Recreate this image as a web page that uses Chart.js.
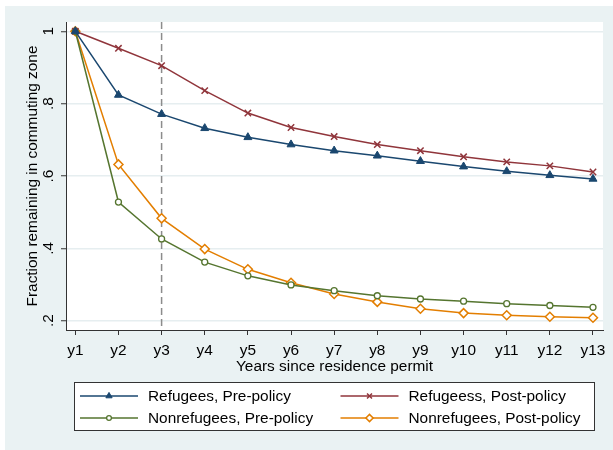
<!DOCTYPE html>
<html>
<head>
<meta charset="utf-8">
<script src="https://cdn.jsdelivr.net/npm/chart.js@4.4.1/dist/chart.umd.min.js"></script>
<style>
  html, body { margin: 0; padding: 0; background: #ffffff; }
  #wrap { width: 613px; height: 450px; }
</style>
</head>
<body>
<div id="wrap"><canvas id="chart" width="613" height="450"></canvas></div>
<script>
// Years since residence permit
const years = ['y1', 'y2', 'y3', 'y4', 'y5', 'y6', 'y7', 'y8', 'y9', 'y10', 'y11', 'y12', 'y13'];

// Fraction remaining in commuting zone, by group
const refugeesPre   = [1.000, 0.824, 0.771, 0.732, 0.707, 0.687, 0.670, 0.656, 0.641, 0.626, 0.613, 0.602, 0.592];
const refugeesPost  = [1.000, 0.953, 0.905, 0.836, 0.774, 0.734, 0.709, 0.687, 0.670, 0.653, 0.639, 0.628, 0.611];
const nonrefPre     = [1.000, 0.528, 0.426, 0.362, 0.324, 0.299, 0.283, 0.269, 0.260, 0.254, 0.247, 0.242, 0.237];
const nonrefPost    = [1.000, 0.632, 0.483, 0.398, 0.342, 0.305, 0.274, 0.252, 0.233, 0.221, 0.215, 0.211, 0.208];

const seriesNames = ['Refugees, Pre-policy', 'Refugeess, Post-policy', 'Nonrefugees, Pre-policy', 'Nonrefugees, Post-policy'];
const yTicks = [0.2, 0.4, 0.6, 0.8, 1.0];
const policyYear = 'y3';

const FONT = '"Liberation Sans", Arial, sans-serif';
const FONT_SIZE = 15.4;
const NAVY = '#1a476f', MAROON = '#90353b', GREEN = '#55752f', ORANGE = '#e37e00';

const toPoints = vals => years.map((_, i) => ({ x: i + 1, y: vals[i] }));

// Light bluish graph region with a white plot region
const backdrop = {
  id: 'backdrop',
  beforeDraw(chart) {
    const { ctx, chartArea: a } = chart;
    ctx.save();
    ctx.fillStyle = '#ffffff';
    ctx.fillRect(0, 0, chart.width, chart.height);
    ctx.fillStyle = '#eaf2f3';
    ctx.fillRect(5, 6, chart.width - 5, chart.height - 6);
    ctx.fillStyle = '#ffffff';
    ctx.fillRect(a.left, a.top, a.right - a.left, a.bottom - a.top);
    ctx.restore();
  }
};

// Dashed reference line at the policy year
const policyLine = {
  id: 'policyLine',
  beforeDatasetsDraw(chart) {
    const { ctx, chartArea: a, scales: { x } } = chart;
    const px = x.getPixelForValue(years.indexOf(policyYear) + 1);
    ctx.save();
    ctx.strokeStyle = '#8c8c8c';
    ctx.lineWidth = 1.5;
    ctx.setLineDash([7, 4]);
    ctx.beginPath();
    ctx.moveTo(px, a.top);
    ctx.lineTo(px, a.bottom);
    ctx.stroke();
    ctx.restore();
  }
};

// Boxed two-column legend below the axis title
const boxLegend = {
  id: 'boxLegend',
  afterDraw(chart) {
    const { ctx, chartArea: a } = chart;
    const left = a.left + 8, right = a.right - 8;
    const top = a.bottom + 52, height = 49;
    ctx.save();
    ctx.fillStyle = '#ffffff';
    ctx.fillRect(left, top, right - left, height);
    ctx.strokeStyle = '#333333';
    ctx.lineWidth = 1;
    ctx.strokeRect(left + 0.5, top + 0.5, right - left - 1, height - 1);
    const colW = (right - left) / 2;
    const rows = [top + 14, top + 36];
    chart.data.datasets.forEach((ds, i) => {
      const cx = left + (i % 2) * colW;
      const cy = rows[Math.floor(i / 2)];
      // sample line
      ctx.setLineDash([]);
      ctx.strokeStyle = ds.borderColor;
      ctx.lineWidth = 1.3;
      ctx.beginPath();
      ctx.moveTo(cx + 6, cy);
      ctx.lineTo(cx + 64, cy);
      ctx.stroke();
      // marker
      ctx.fillStyle = ds.pointBackgroundColor;
      ctx.strokeStyle = ds.pointBorderColor;
      ctx.lineWidth = ds.pointBorderWidth;
      Chart.helpers.drawPoint(ctx, {
        pointStyle: ds.pointStyle,
        radius: ds.legendRadius,
        borderWidth: ds.pointBorderWidth
      }, cx + 35, cy);
      // label
      ctx.fillStyle = '#000000';
      ctx.font = FONT_SIZE + 'px ' + FONT;
      ctx.textBaseline = 'middle';
      ctx.textAlign = 'left';
      ctx.fillText(ds.label, cx + 74, cy + 1);
    });
    ctx.restore();
  }
};

const datasets = [
  { label: seriesNames[0], data: toPoints(refugeesPre), borderColor: NAVY, backgroundColor: NAVY,
    pointStyle: 'triangle', pointRadius: 4.6, pointBackgroundColor: NAVY, pointBorderColor: NAVY,
    pointBorderWidth: 1, legendRadius: 3.6 },
  { label: seriesNames[1], data: toPoints(refugeesPost), borderColor: MAROON, backgroundColor: MAROON,
    pointStyle: 'crossRot', pointRadius: 4.5, pointBackgroundColor: MAROON, pointBorderColor: MAROON,
    pointBorderWidth: 1.5, legendRadius: 3.5 },
  { label: seriesNames[2], data: toPoints(nonrefPre), borderColor: GREEN, backgroundColor: GREEN,
    pointStyle: 'circle', pointRadius: 3, pointBackgroundColor: '#ffffff', pointBorderColor: GREEN,
    pointBorderWidth: 1.3, legendRadius: 2.4 },
  { label: seriesNames[3], data: toPoints(nonrefPost), borderColor: ORANGE, backgroundColor: ORANGE,
    pointStyle: 'rectRot', pointRadius: 4.5, pointBackgroundColor: '#ffffff', pointBorderColor: ORANGE,
    pointBorderWidth: 1.5, legendRadius: 3.6 }
].map(ds => Object.assign(ds, { borderWidth: 1.5, tension: 0, fill: false, pointHoverRadius: ds.pointRadius }));

new Chart(document.getElementById('chart'), {
  type: 'line',
  data: { datasets },
  options: {
    responsive: false,
    devicePixelRatio: 1,
    animation: false,
    layout: { padding: { left: 5, top: 22, right: 10, bottom: 73 } },
    font: { family: FONT, size: FONT_SIZE },
    plugins: { legend: { display: false }, tooltip: { enabled: false } },
    scales: {
      x: {
        type: 'linear',
        min: 0.784,
        max: 13.232,
        afterBuildTicks: s => { s.ticks = years.map((_, i) => ({ value: i + 1 })); },
        afterFit: s => { s.height = 47; },
        ticks: {
          callback: v => years[Math.round(v) - 1],
          color: '#000000',
          font: { family: FONT, size: FONT_SIZE },
          padding: 7,
          autoSkip: false,
          maxRotation: 0
        },
        grid: { drawOnChartArea: false, tickLength: 5, tickColor: '#333333', tickWidth: 1 },
        border: { color: '#333333', width: 1 },
        title: {
          display: true,
          text: 'Years since residence permit',
          color: '#000000',
          font: { family: FONT, size: FONT_SIZE },
          padding: { top: 0, bottom: 1 }
        }
      },
      y: {
        min: 0.1743,
        max: 1.0257,
        afterBuildTicks: s => { s.ticks = yTicks.map(v => ({ value: v })); },
        afterFit: s => { s.width = 61; },
        ticks: {
          callback: v => String(v).replace(/^0/, ''),
          color: '#000000',
          font: { family: FONT, size: FONT_SIZE },
          minRotation: 90,
          maxRotation: 90,
          crossAlign: 'center',
          padding: 6
        },
        grid: { color: '#e6eef0', lineWidth: 1.5, tickLength: 5, tickColor: '#333333', tickWidth: 1 },
        border: { color: '#333333', width: 1 },
        title: {
          display: true,
          text: 'Fraction remaining in commuting zone',
          color: '#000000',
          font: { family: FONT, size: FONT_SIZE },
          padding: { top: 19, bottom: 0 }
        }
      }
    }
  },
  plugins: [backdrop, policyLine, boxLegend]
});
</script>
</body>
</html>
